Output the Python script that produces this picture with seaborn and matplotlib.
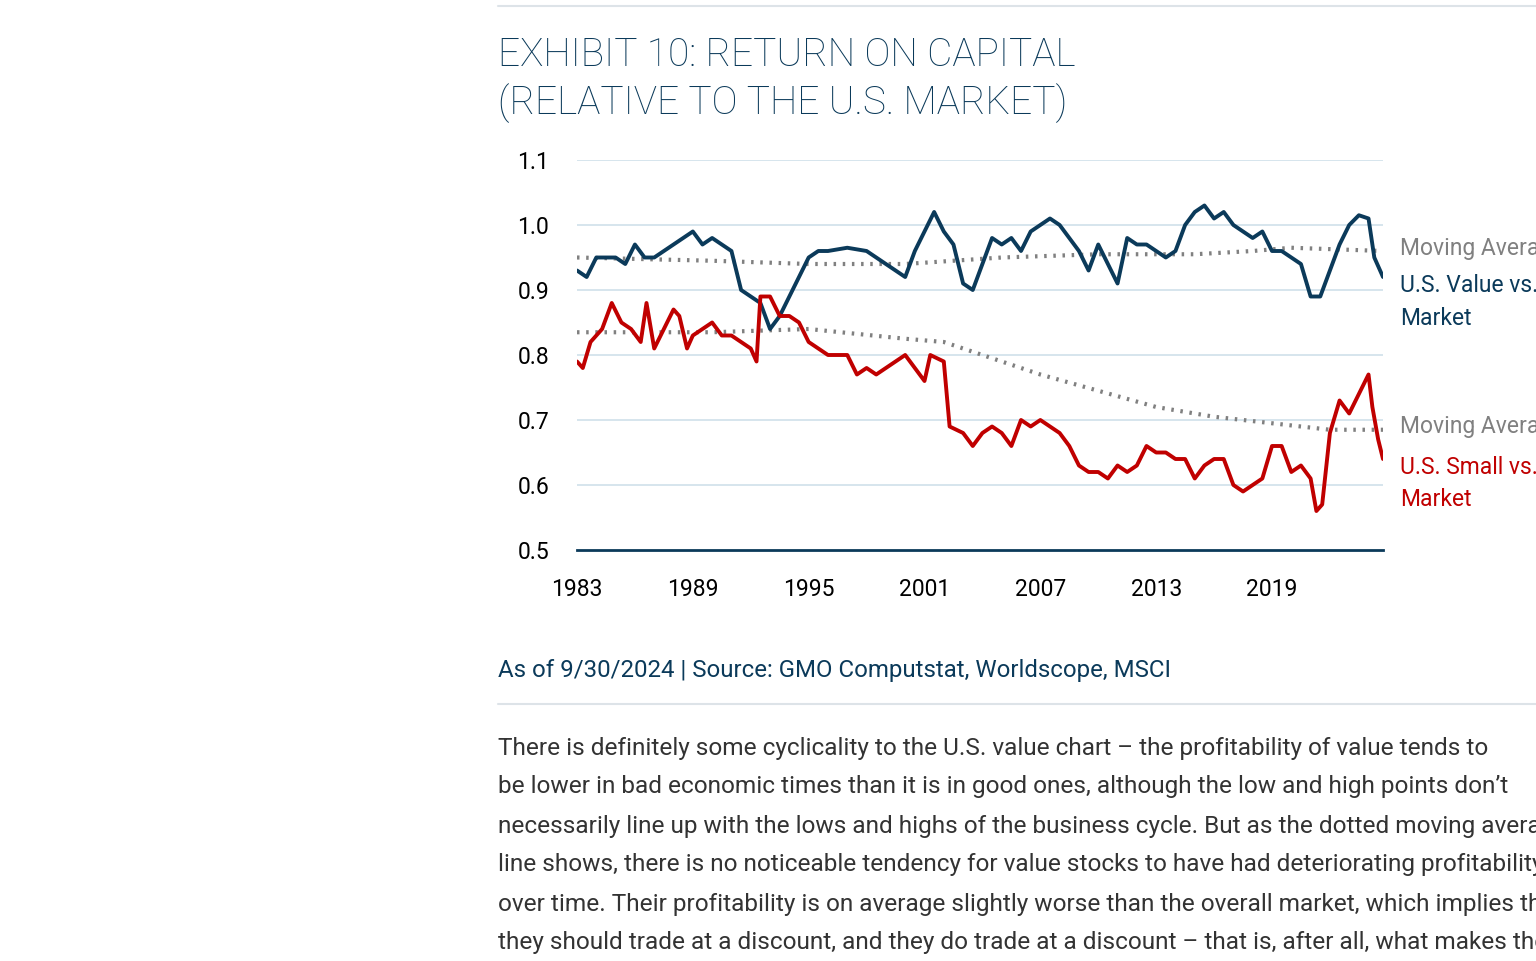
import matplotlib
matplotlib.use("Agg")
import matplotlib.pyplot as plt
import seaborn as sns

# Value vs market, return on capital
value_years = [1983, 1983.5, 1984, 1985, 1985.5, 1986, 1986.5, 1987, 1988, 1988.5, 1989, 1989.5,
               1990, 1990.5, 1991, 1991.5, 1992, 1992.5, 1993, 1993.5, 1994, 1994.5, 1995, 1995.5,
               1996, 1997, 1998, 1998.5, 1999, 1999.5, 2000, 2000.5, 2001, 2001.5, 2002, 2002.5,
               2003, 2003.5, 2004, 2004.5, 2005, 2005.5, 2006, 2006.5, 2007, 2007.5, 2008, 2008.5,
               2009, 2009.5, 2010, 2010.5, 2011, 2011.5, 2012, 2012.5, 2013, 2013.5, 2014, 2014.5,
               2015, 2015.5, 2016, 2016.5, 2017, 2017.5, 2018, 2018.5, 2019, 2019.5, 2020, 2020.5,
               2021, 2021.5, 2022, 2022.5, 2023, 2023.5, 2024, 2024.3, 2024.75]
value_vals = [0.93, 0.92, 0.95, 0.95, 0.94, 0.97, 0.95, 0.95, 0.97, 0.98, 0.99, 0.97,
              0.98, 0.97, 0.96, 0.90, 0.89, 0.88, 0.84, 0.86, 0.89, 0.92, 0.95, 0.96,
              0.96, 0.965, 0.96, 0.95, 0.94, 0.93, 0.92, 0.96, 0.99, 1.02, 0.99, 0.97,
              0.91, 0.90, 0.94, 0.98, 0.97, 0.98, 0.96, 0.99, 1.00, 1.01, 1.00, 0.98,
              0.96, 0.93, 0.97, 0.94, 0.91, 0.98, 0.97, 0.97, 0.96, 0.95, 0.96, 1.00,
              1.02, 1.03, 1.01, 1.02, 1.00, 0.99, 0.98, 0.99, 0.96, 0.96, 0.95, 0.94,
              0.89, 0.89, 0.93, 0.97, 1.00, 1.015, 1.01, 0.95, 0.92]

small_years = [1983, 1983.3, 1983.7, 1984.3, 1984.8, 1985.3, 1985.8, 1986.3, 1986.6, 1987, 1987.5,
               1988, 1988.3, 1988.7, 1989, 1989.5, 1990, 1990.5, 1991, 1991.5, 1992, 1992.3, 1992.5,
               1993, 1993.5, 1994, 1994.5, 1995, 1995.5, 1996, 1997, 1997.5, 1998, 1998.5, 1999,
               1999.5, 2000, 2000.5, 2001, 2001.3, 2002, 2002.3, 2003, 2003.5, 2004, 2004.5, 2005,
               2005.5, 2006, 2006.5, 2007, 2007.5, 2008, 2008.5, 2009, 2009.5, 2010, 2010.5, 2011,
               2011.5, 2012, 2012.5, 2013, 2013.5, 2014, 2014.5, 2015, 2015.5, 2016, 2016.5, 2017,
               2017.5, 2018, 2018.5, 2019, 2019.5, 2020, 2020.5, 2021, 2021.3, 2021.6, 2022, 2022.5,
               2023, 2023.5, 2024, 2024.2, 2024.5, 2024.75]
small_vals = [0.79, 0.78, 0.82, 0.84, 0.88, 0.85, 0.84, 0.82, 0.88, 0.81, 0.84,
              0.87, 0.86, 0.81, 0.83, 0.84, 0.85, 0.83, 0.83, 0.82, 0.81, 0.79, 0.89,
              0.89, 0.86, 0.86, 0.85, 0.82, 0.81, 0.80, 0.80, 0.77, 0.78, 0.77, 0.78,
              0.79, 0.80, 0.78, 0.76, 0.80, 0.79, 0.69, 0.68, 0.66, 0.68, 0.69, 0.68,
              0.66, 0.70, 0.69, 0.70, 0.69, 0.68, 0.66, 0.63, 0.62, 0.62, 0.61, 0.63,
              0.62, 0.63, 0.66, 0.65, 0.65, 0.64, 0.64, 0.61, 0.63, 0.64, 0.64, 0.60,
              0.59, 0.60, 0.61, 0.66, 0.66, 0.62, 0.63, 0.61, 0.56, 0.57, 0.68, 0.73,
              0.71, 0.74, 0.77, 0.72, 0.67, 0.64]

ma_value_years = [1983, 1990, 1995, 2000, 2005, 2010, 2015, 2018, 2020, 2024.75]
ma_value_vals = [0.95, 0.945, 0.94, 0.94, 0.95, 0.955, 0.955, 0.96, 0.965, 0.96]
ma_small_years = [1983, 1990, 1995, 2000, 2002, 2004, 2007, 2010, 2013, 2016, 2019, 2022, 2024.75]
ma_small_vals = [0.835, 0.835, 0.84, 0.825, 0.82, 0.80, 0.77, 0.745, 0.72, 0.705, 0.695, 0.685, 0.685]

x_ticks = [1983, 1989, 1995, 2001, 2007, 2013, 2019]
y_ticks = [0.5, 0.6, 0.7, 0.8, 0.9, 1.0, 1.1]

NAVY = "#0b3a5a"
RED = "#c00000"
GREY = "#808080"

sns.set_theme(style="white")
plt.rcParams['font.family'] = ['Roboto', 'DejaVu Sans']

fig = plt.figure(figsize=(15.36, 9.61), dpi=100)
ax = fig.add_axes([577 / 1536, 1 - 550 / 961, 806 / 1536, 390 / 961])

sns.lineplot(x=ma_value_years, y=ma_value_vals, ax=ax, color=GREY, lw=3, linestyle=(0, (0.6, 1.6)))
sns.lineplot(x=ma_small_years, y=ma_small_vals, ax=ax, color=GREY, lw=3, linestyle=(0, (0.6, 1.6)))
sns.lineplot(x=value_years, y=value_vals, ax=ax, color=NAVY, lw=2.8)
sns.lineplot(x=small_years, y=small_vals, ax=ax, color=RED, lw=2.8)

ax.set_xlim(1983, 2024.75)
ax.set_ylim(0.5, 1.1)
ax.set_xticks(x_ticks)
ax.set_yticks(y_ticks)
ax.set_yticklabels([f"{v:.1f}" for v in y_ticks])
for y in y_ticks[1:]:
    ax.axhline(y, color="#cfe0ea", lw=1.2, zorder=0)
for s in ["top", "right", "left"]:
    ax.spines[s].set_visible(False)
ax.spines["bottom"].set_color(NAVY)
ax.spines["bottom"].set_linewidth(2)
ax.tick_params(axis="both", length=0, labelsize=16.5, colors="black")
ax.tick_params(axis="y", pad=20)
ax.tick_params(axis="x", pad=20)

# legend labels on right
lx = 1400 / 1536
def ft(px_y, s, c, size=16.5):
    fig.text(lx, 1 - px_y / 961, s, color=c, fontsize=size, va="center", ha="left")
ft(249, "Moving Average", GREY)
ft(285, "U.S. Value vs.", NAVY)
ft(318, "Market", NAVY)
ft(426, "Moving Average", GREY)
ft(467, "U.S. Small vs.", RED)
ft(499, "Market", RED)

# page elements
x0 = 498 / 1536
fig.add_artist(plt.Line2D([x0, 1], [1 - 6 / 961] * 2, color="#dde3e8", lw=1.5))
fig.add_artist(plt.Line2D([x0, 1], [1 - 704 / 961] * 2, color="#dde3e8", lw=1.5))
fig.text(x0, 1 - 55 / 961, "EXHIBIT 10: RETURN ON CAPITAL", color=NAVY, fontsize=28,
         fontweight="light", va="center")
fig.text(x0, 1 - 103 / 961, "(RELATIVE TO THE U.S. MARKET)", color=NAVY, fontsize=28,
         fontweight="light", va="center")
fig.text(x0, 1 - 671 / 961, "As of 9/30/2024 | Source: GMO Computstat, Worldscope, MSCI",
         color=NAVY, fontsize=17.3, va="center")

body = [
    "There is definitely some cyclicality to the U.S. value chart \u2013 the profitability of value tends to",
    "be lower in bad economic times than it is in good ones, although the low and high points don\u2019t",
    "necessarily line up with the lows and highs of the business cycle. But as the dotted moving average",
    "line shows, there is no noticeable tendency for value stocks to have had deteriorating profitability",
    "over time. Their profitability is on average slightly worse than the overall market, which implies that",
    "they should trade at a discount, and they do trade at a discount \u2013 that is, after all, what makes them",
]
for i, line in enumerate(body):
    fig.text(x0, 1 - (748 + 39 * i) / 961, line, color="#333333", fontsize=17.6, va="center")

fig.savefig("out.png", dpi=100)
